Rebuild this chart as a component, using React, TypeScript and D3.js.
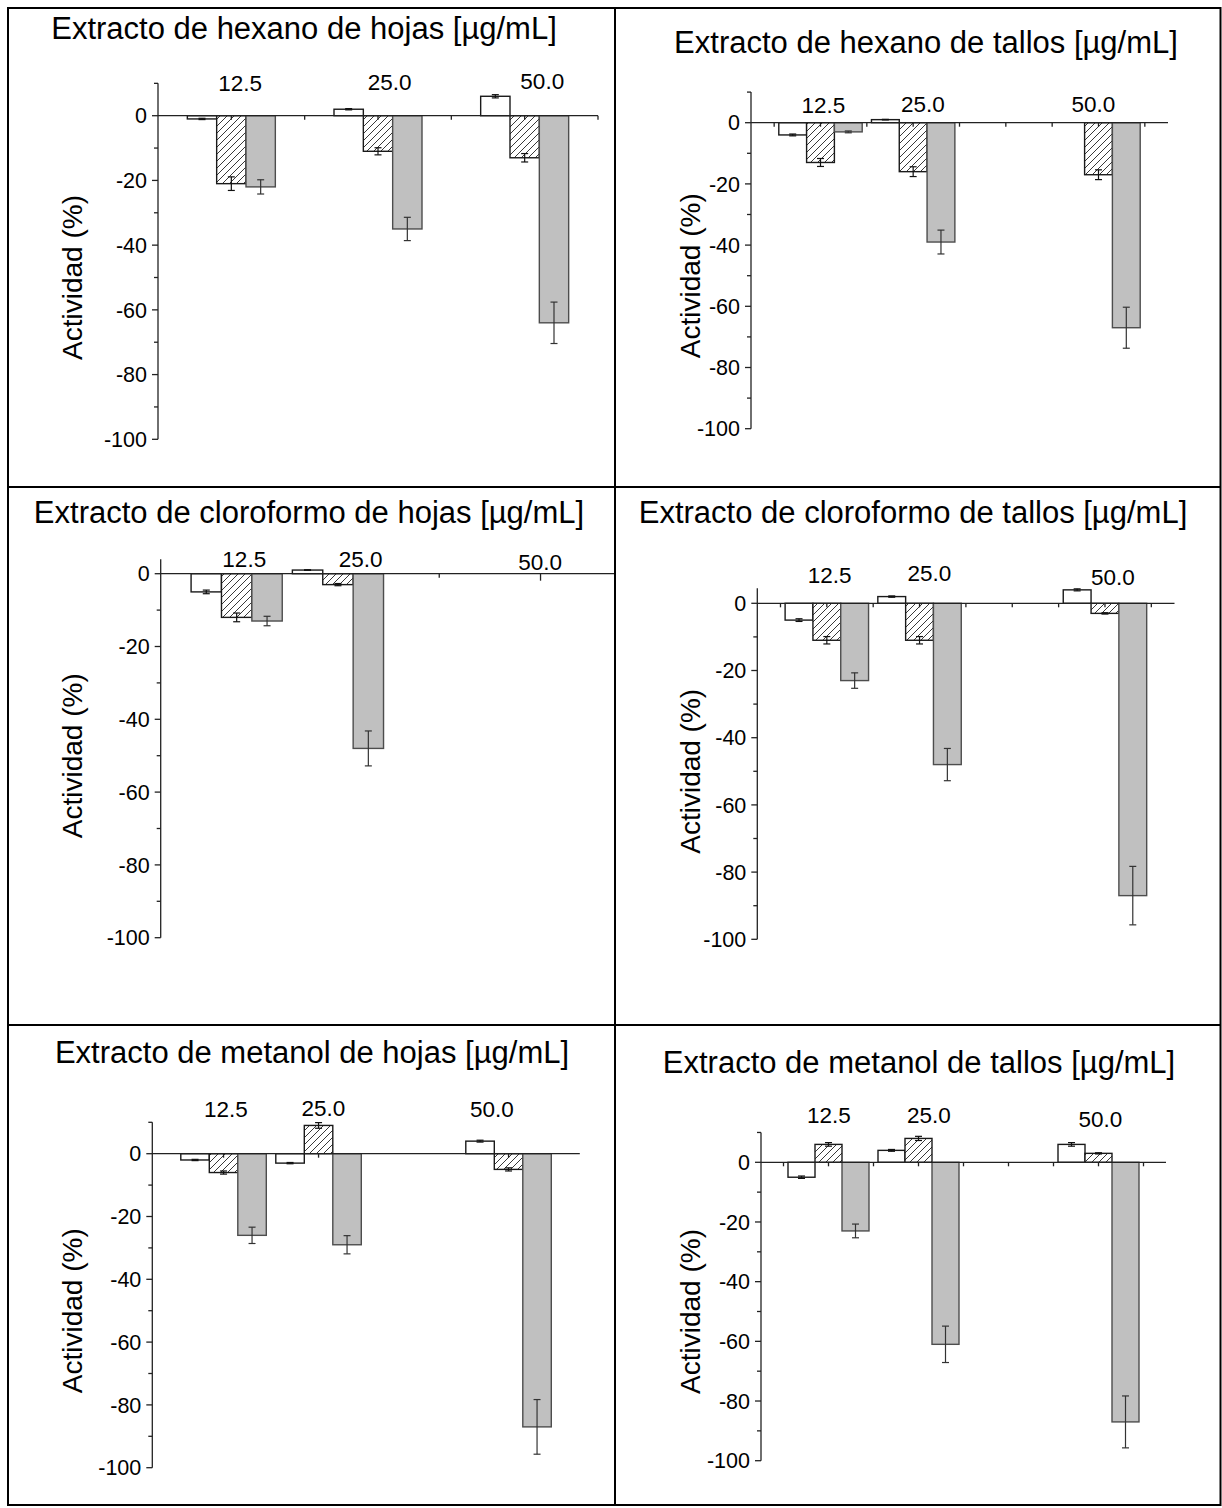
import { useEffect, useRef } from "react";
import * as d3 from "d3";

// concentraciones (µg/mL) y series: blanco, rayado, gris
const concentrations = ["12.5", "25.0", "50.0"];
const titles = [
  "Extracto de hexano de hojas [µg/mL]",
  "Extracto de hexano de tallos [µg/mL]",
  "Extracto de cloroformo de hojas [µg/mL]",
  "Extracto de cloroformo de tallos [µg/mL]",
  "Extracto de metanol de hojas [µg/mL]",
  "Extracto de metanol de tallos [µg/mL]",
];
const yTickValues = [0, -20, -40, -60, -80, -100];

// valores [serie][concentración], null = sin barra
const hexanoHojas = [[-1, 2, 6], [-21, -11, -13], [-22, -35, -64]];
const hexanoHojasErr = [[0.2, 0.2, 0.5], [2.1, 1.1, 1.3], [2.2, 3.6, 6.4]];
const hexanoTallos = [[-4, 1, null], [-13, -16, -17], [-3, -39, -67]];
const hexanoTallosErr = [[0.3, 0.1, 0], [1.3, 1.6, 1.6], [0.3, 3.9, 6.7]];
const cloroformoHojas = [[-5, 1, null], [-12, -3, null], [-13, -48, null]];
const cloroformoHojasErr = [[0.5, 0.1, 0], [1.2, 0.3, 0], [1.3, 4.8, 0]];
const cloroformoTallos = [[-5, 2, 4], [-11, -11, -3], [-23, -48, -87]];
const cloroformoTallosErr = [[0.4, 0.2, 0.3], [1.1, 1.1, 0.2], [2.3, 4.8, 8.7]];
const metanolHojas = [[-2, -3, 4], [-6, 9, -5], [-26, -29, -87]];
const metanolHojasErr = [[0.2, 0.2, 0.3], [0.5, 0.9, 0.5], [2.6, 2.9, 8.7]];
const metanolTallos = [[-5, 4, 6], [6, 8, 3], [-23, -61, -87]];
const metanolTallosErr = [[0.4, 0.3, 0.6], [0.6, 0.7, 0.2], [2.3, 6.1, 8.7]];

const panelData = [
  [hexanoHojas, hexanoHojasErr],
  [hexanoTallos, hexanoTallosErr],
  [cloroformoHojas, cloroformoHojasErr],
  [cloroformoTallos, cloroformoTallosErr],
  [metanolHojas, metanolHojasErr],
  [metanolTallos, metanolTallosErr],
];

const FONT = "Arial, 'Liberation Sans', Helvetica, sans-serif";
const W = 1222;
const H = 1508;

// layout of each cell (pixels) and the x axis in Origin-like units
const layouts = [
  { titleX: 304, titleY: 39, xr: [158, 598], xd: [0.5, 3.5], gx: [1, 2, 3], bw: 0.2,
    xt: [1, 1.5, 2, 2.5, 3, 3.5], xm: [], y0: 115.7, y100: 439.3, yMax: 10, labX: 72,
    conc: [[1.06, 7.7], [2.08, 7.9], [3.12, 8.3]] },
  { titleX: 926, titleY: 53, xr: [751, 1168], xd: [-0.5, 8.5], gx: [1, 3, 7], bw: 0.6,
    xt: [0, 1, 2, 3, 4, 5, 6, 7, 8], xm: [], y0: 122.7, y100: 428.7, yMax: 10, labX: 690,
    conc: [[1.06, 3.1], [3.21, 3.4], [6.89, 3.4]] },
  { titleX: 309, titleY: 523, xr: [160.7, 616.5], xd: [-0.5, 8.5], gx: [1, 3, 7], bw: 0.6,
    xt: [5], xm: [7], y0: 573.7, y100: 937.7, yMax: 4, labX: 72, axEnd: 614,
    conc: [[1.15, 1.9], [3.45, 1.9], [6.99, 1.0]] },
  { titleX: 913, titleY: 523, xr: [757.3, 1174.5], xd: [-0.5, 8.5], gx: [1, 3, 7], bw: 0.6,
    xt: [0, 1, 2, 3, 4, 5, 6, 7, 8], xm: [], y0: 603.3, y100: 939.3, yMax: 4.5, labX: 690,
    conc: [[1.06, 5.95], [3.21, 6.7], [7.17, 5.4]] },
  { titleX: 312, titleY: 1063, xr: [152.3, 579.8], xd: [-0.5, 8.5], gx: [1, 3, 7], bw: 0.6,
    xt: [1, 3, 7], xm: [], y0: 1153.7, y100: 1467.7, yMax: 10, labX: 72,
    conc: [[1.05, 11.6], [3.1, 12.0], [6.65, 11.6]] },
  { titleX: 919, titleY: 1073, xr: [761, 1166], xd: [-0.5, 8.5], gx: [1, 3, 7], bw: 0.6,
    xt: [0, 1, 2, 3, 4, 5, 6, 7, 8], xm: [], y0: 1162.3, y100: 1460.7, yMax: 10, labX: 690,
    conc: [[1.01, 13.1], [3.23, 13.3], [7.04, 11.7]] },
];

const barFill = ["#ffffff", "url(#hatch)", "#c0c0c0"];
const barStroke = ["#1a1a1a", "#1a1a1a", "#4d4d4d"];

export default function App() {
  const svgRef = useRef(null);

  useEffect(() => {
    const svg = d3.select(svgRef.current);
    svg.selectAll("*").remove();

    const defs = svg.append("defs");
    const pat = defs.append("pattern")
      .attr("id", "hatch")
      .attr("patternUnits", "userSpaceOnUse")
      .attr("width", 7)
      .attr("height", 7);
    pat.append("rect").attr("width", 7).attr("height", 7).attr("fill", "#fff");
    pat.append("path")
      .attr("d", "M-1,1 l2,-2 M0,7 l7,-7 M6,8 l2,-2")
      .attr("stroke", "#222")
      .attr("stroke-width", 0.9);

    svg.append("rect").attr("width", W).attr("height", H).attr("fill", "#fff");

    layouts.forEach((L, pi) => {
      const [vals, errs] = panelData[pi];
      const g = svg.append("g");
      const x = d3.scaleLinear().domain(L.xd).range(L.xr);
      const y = d3.scaleLinear().domain([-100, 0]).range([L.y100, L.y0]);
      const u = x(1) - x(0);
      const bw = L.bw * u;

      // title
      g.append("text")
        .attr("x", L.titleX)
        .attr("y", L.titleY)
        .attr("text-anchor", "middle")
        .attr("font-family", FONT)
        .attr("font-size", 31)
        .attr("fill", "#000")
        .text(titles[pi]);

      // bars
      vals.forEach((serie, si) => {
        serie.forEach((v, ci) => {
          if (v === null) return;
          const cx = x(L.gx[ci]) + (si - 1) * bw;
          g.append("rect")
            .attr("x", cx - bw / 2)
            .attr("y", Math.min(y(v), y(0)))
            .attr("width", bw)
            .attr("height", Math.abs(y(v) - y(0)))
            .attr("fill", barFill[si])
            .attr("stroke", barStroke[si])
            .attr("stroke-width", 1.4);
        });
      });

      // error bars
      vals.forEach((serie, si) => {
        serie.forEach((v, ci) => {
          if (v === null) return;
          const e = errs[si][ci];
          const cx = x(L.gx[ci]) + (si - 1) * bw;
          const col = si === 2 ? "#333" : "#111";
          const eb = g.append("g").attr("stroke", col).attr("stroke-width", 1.2);
          eb.append("line").attr("x1", cx).attr("x2", cx).attr("y1", y(v - e)).attr("y2", y(v + e));
          [v - e, v + e].forEach((ev) => {
            eb.append("line").attr("x1", cx - 3.5).attr("x2", cx + 3.5).attr("y1", y(ev)).attr("y2", y(ev));
          });
        });
      });

      // y axis
      const ax = g.append("g").attr("stroke", "#222").attr("stroke-width", 1.3);
      ax.append("line")
        .attr("x1", L.xr[0]).attr("x2", L.xr[0])
        .attr("y1", y(L.yMax)).attr("y2", y(-100));
      d3.range(-100, L.yMax + 0.01, 10).forEach((t) => {
        const major = t % 20 === 0;
        ax.append("line")
          .attr("x1", L.xr[0] - (major ? 6 : 4)).attr("x2", L.xr[0])
          .attr("y1", y(t)).attr("y2", y(t));
      });
      yTickValues.forEach((t) => {
        g.append("text")
          .attr("x", L.xr[0] - 11)
          .attr("y", y(t))
          .attr("dy", "0.36em")
          .attr("text-anchor", "end")
          .attr("font-family", FONT)
          .attr("font-size", 21.5)
          .attr("fill", "#000")
          .text(String(t));
      });

      // x axis along zero
      ax.append("line")
        .attr("x1", L.xr[0]).attr("x2", L.axEnd ?? L.xr[1])
        .attr("y1", y(0)).attr("y2", y(0));
      L.xt.forEach((t) => {
        ax.append("line").attr("x1", x(t)).attr("x2", x(t)).attr("y1", y(0)).attr("y2", y(0) + 4);
      });
      L.xm.forEach((t) => {
        ax.append("line").attr("x1", x(t)).attr("x2", x(t)).attr("y1", y(0)).attr("y2", y(0) + 7);
      });

      // concentration labels
      L.conc.forEach(([cxv, cyv], ci) => {
        g.append("text")
          .attr("x", x(cxv))
          .attr("y", y(cyv))
          .attr("text-anchor", "middle")
          .attr("font-family", FONT)
          .attr("font-size", 22.5)
          .attr("fill", "#000")
          .text(concentrations[ci]);
      });

      // y label
      const ly = (y(0) + y(-100)) / 2;
      g.append("text")
        .attr("transform", `translate(${L.labX},${ly}) rotate(-90)`)
        .attr("text-anchor", "middle")
        .attr("dy", "0.35em")
        .attr("font-family", FONT)
        .attr("font-size", 28)
        .attr("fill", "#000")
        .text("Actividad (%)");
    });

    // table grid
    const grid = svg.append("g").attr("stroke", "#000").attr("stroke-width", 2).attr("fill", "none");
    grid.append("rect").attr("x", 8).attr("y", 8).attr("width", 1212.5).attr("height", 1497);
    grid.append("line").attr("x1", 615).attr("x2", 615).attr("y1", 8).attr("y2", 1505);
    [487, 1025].forEach((yy) => {
      grid.append("line").attr("x1", 8).attr("x2", 1220.5).attr("y1", yy).attr("y2", yy);
    });
  }, []);

  return (
    <svg
      ref={svgRef}
      width={W}
      height={H}
      style={{ position: "absolute", left: 0, top: 0, display: "block" }}
    />
  );
}
